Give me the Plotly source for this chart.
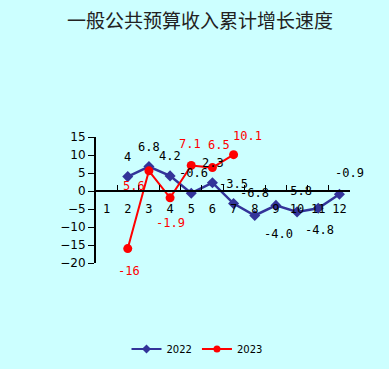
import plotly.graph_objects as go

categories = [str(i) for i in range(1, 13)]
months_2022 = ["2", "3", "4", "5", "6", "7", "8", "9", "10", "11", "12"]
values_2022 = [4, 6.8, 4.2, -0.6, 2.3, -3.5, -6.8, -4.0, -5.8, -4.8, -0.9]
labels_2022 = ["4", "6.8", "4.2", "-0.6", "2.3", "-3.5", "-6.8", "-4.0", "-5.8", "-4.8", "-0.9"]
months_2023 = ["2", "3", "4", "5", "6", "7"]
values_2023 = [-16, 5.6, -1.9, 7.1, 6.5, 10.1]
labels_2023 = ["-16", "5.6", "-1.9", "7.1", "6.5", "10.1"]
y_ticks = [15, 10, 5, 0, -5, -10, -15, -20]

# label offsets (pixels) - styling
off_2022 = [(0, 20), (0, 20), (0, 20), (2, 20), (1, 20), (0, 20), (0, 22), (3, -29), (0, 21), (1, -22), (10, 21)]
off_2023 = [(1, -22), (-15, -15), (0, -25), (-1, 21), (7, 23), (14, 19)]

BG = "#CCFFFF"
BLUE = "#333399"
RED = "#FF0000"
LABEL_FONT = "DejaVu Sans Mono"

fig = go.Figure()
fig.add_trace(go.Scatter(
    x=months_2022, y=values_2022, name="2022", mode="lines+markers", showlegend=False,
    line=dict(color=BLUE, width=2.5),
    marker=dict(symbol="diamond", size=8.5, color=BLUE),
))
fig.add_trace(go.Scatter(
    x=months_2023, y=values_2023, name="2023", mode="lines+markers", showlegend=False,
    line=dict(color=RED, width=2),
    marker=dict(symbol="circle", size=9, color=RED),
))
# legend entries with smaller symbols (no data)
fig.add_trace(go.Scatter(x=[None], y=[None], name="2022", mode="lines+markers",
                         line=dict(color=BLUE, width=2), marker=dict(symbol="diamond", size=7, color=BLUE)))
fig.add_trace(go.Scatter(x=[None], y=[None], name="2023", mode="lines+markers",
                         line=dict(color=RED, width=2), marker=dict(symbol="circle", size=7, color=RED)))

annotations = []
for m, v, t, (dx, dy) in zip(months_2022, values_2022, labels_2022, off_2022):
    annotations.append(dict(x=categories.index(m), y=v, xref="x", yref="y", text=t, showarrow=False,
                            xshift=dx, yshift=dy,
                            font=dict(family=LABEL_FONT, size=12, color="black")))
for m, v, t, (dx, dy) in zip(months_2023, values_2023, labels_2023, off_2023):
    annotations.append(dict(x=categories.index(m), y=v, xref="x", yref="y", text=t, showarrow=False,
                            xshift=dx, yshift=dy,
                            font=dict(family=LABEL_FONT, size=12, color=RED)))

fig.update_layout(
    width=389, height=369,
    paper_bgcolor=BG, plot_bgcolor=BG,
    margin=dict(l=96, r=39, t=137, b=106, autoexpand=False),
    title=dict(text="一般公共预算收入累计增长速度", x=200 / 389, xanchor="center", xref="container",
               y=1 - 21.5 / 369, yanchor="middle", yref="container",
               font=dict(family="Noto Sans CJK SC", size=19, color="#222222")),
    showlegend=True,
    legend=dict(orientation="h", x=197 / 389, xanchor="center", xref="container",
                y=1 - 349 / 369, yanchor="middle", yref="container",
                font=dict(family="DejaVu Sans", size=10, color="black"), bgcolor="rgba(0,0,0,0)"),
    annotations=annotations,
    xaxis=dict(type="category", categoryorder="array", categoryarray=categories,
               tickvals=categories, ticktext=categories, tickangle=0,
               range=[-0.5, 11.5], anchor="free", position=20 / 35,
               showline=True, linecolor="black", linewidth=2,
               ticks="inside", tickson="boundaries", ticklen=5, tickcolor="black", tickwidth=1,
               ticklabelstandoff=7,
               showgrid=False, zeroline=False,
               tickfont=dict(family=LABEL_FONT, size=12, color="black")),
    yaxis=dict(range=[-20, 15], tickvals=y_ticks, showline=True, linecolor="black", linewidth=2,
               ticks="outside", ticklen=6, tickcolor="black", showgrid=False, zeroline=False,
               tickfont=dict(family="DejaVu Sans", size=12, color="black")),
)

fig.write_html("out.html", config={"displayModeBar": False},
               post_script="document.body.style.margin='0';document.body.style.background='#CCFFFF';")
